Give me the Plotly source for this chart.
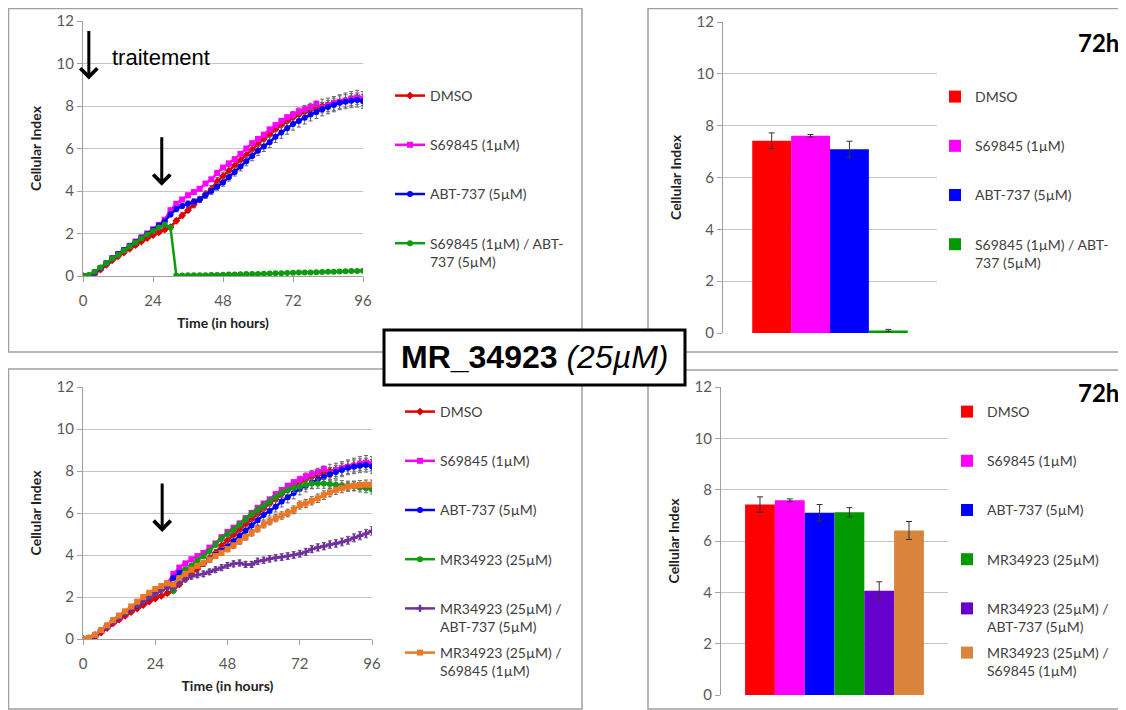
import plotly.graph_objects as go

# the page puts the figure 8 px from the window corner
OFF = 8
W, H = 1126 - OFF, 710 - OFF

hours = list(range(0, 97, 2))

# cellular index curves, one value every 2 h
dmso = [0, 0, 0.1, 0.3, 0.52, 0.74, 0.92, 1.1, 1.28, 1.45, 1.62, 1.78, 1.92, 2.05, 2.18,
        2.3, 2.6, 2.85, 3.1, 3.35, 3.6, 3.85, 4.1, 4.45, 4.7,
        4.95, 5.2, 5.45, 5.7, 5.95, 6.2, 6.45, 6.65, 6.9, 7.1,
        7.28, 7.45, 7.6, 7.72, 7.82, 7.92, 8.0, 8.05, 8.12, 8.2,
        8.28, 8.35, 8.4, 8.35]
s69845 = [0, 0, 0.17, 0.38, 0.6, 0.84, 1.03, 1.22, 1.42, 1.62, 1.82, 2.0, 2.2, 2.4, 2.65,
          3.1, 3.4, 3.6, 3.8, 3.95, 4.1, 4.35, 4.55, 4.85, 5.1,
          5.3, 5.5, 5.75, 6.0, 6.25, 6.45, 6.65, 6.9, 7.1, 7.3,
          7.47, 7.6, 7.75, 7.85, 7.95, 8.1, 7.9, 8.05, 8.15, 8.2,
          8.25, 8.35, 8.4, 8.35]
abt737 = [0, 0, 0.17, 0.38, 0.6, 0.84, 1.03, 1.22, 1.42, 1.6, 1.8, 1.98, 2.17, 2.38, 2.57,
          2.9, 3.15, 3.3, 3.4, 3.5, 3.6, 3.8, 4.0, 4.2, 4.4,
          4.65, 4.9, 5.15, 5.4, 5.65, 5.9, 6.1, 6.3, 6.55, 6.75,
          6.95, 7.15, 7.3, 7.45, 7.6, 7.72, 7.85, 7.95, 8.05, 8.15,
          8.2, 8.25, 8.28, 8.22]
s_abt = [0, 0.05, 0.2, 0.4, 0.6, 0.82, 1.0, 1.2, 1.4, 1.58, 1.78, 1.95, 2.12, 2.28, 2.42,
         2.28, 0.02, 0.02, 0.03, 0.03, 0.03, 0.04, 0.05, 0.05, 0.06,
         0.07, 0.07, 0.08, 0.09, 0.1, 0.1, 0.11, 0.12, 0.13, 0.13,
         0.14, 0.15, 0.16, 0.16, 0.17, 0.18, 0.19, 0.2, 0.2, 0.21,
         0.22, 0.23, 0.24, 0.25]
mr = [0, 0.03, 0.18, 0.4, 0.62, 0.85, 1.05, 1.25, 1.45, 1.63, 1.82, 2.0, 2.18, 2.35, 2.5,
      2.3, 2.9, 3.3, 3.5, 3.75, 3.95, 4.2, 4.5, 4.8, 5.0,
      5.2, 5.45, 5.7, 5.95, 6.15, 6.35, 6.55, 6.75, 6.95, 7.1,
      7.2, 7.25, 7.35, 7.4, 7.4, 7.4, 7.38, 7.35, 7.32, 7.3,
      7.27, 7.22, 7.18, 7.12]
mr_abt = [0, 0.03, 0.18, 0.4, 0.62, 0.85, 1.05, 1.25, 1.45, 1.63, 1.82, 2.0, 2.18, 2.33, 2.45,
          2.45, 2.7, 2.85, 2.98, 3.05, 3.1, 3.2, 3.3, 3.4, 3.5,
          3.58, 3.62, 3.55, 3.55, 3.7, 3.75, 3.82, 3.87, 3.9, 3.95,
          4.0, 4.06, 4.15, 4.28, 4.36, 4.42, 4.5, 4.55, 4.62, 4.7,
          4.82, 4.92, 5.02, 5.15]
mr_s = [0, 0.05, 0.2, 0.42, 0.65, 0.9, 1.12, 1.32, 1.55, 1.78, 2.0, 2.2, 2.38, 2.52, 2.65,
        2.6, 2.9, 3.1, 3.3, 3.48, 3.62, 3.78, 3.95, 4.1, 4.28,
        4.45, 4.65, 4.85, 5.05, 5.25, 5.45, 5.6, 5.75, 5.88, 6.0,
        6.15, 6.38, 6.45, 6.58, 6.7, 6.85, 6.98, 7.1, 7.18, 7.25,
        7.3, 7.33, 7.35, 7.35]

# error bars of the curves, in % of the value
err_dmso, err_s, err_abt, err_sabt = 4, 1, 4, 0
err_mr, err_mrabt, err_mrs = 3, 4, 3

top_names = ['DMSO', 'S69845 (1µM)', 'ABT-737 (5µM)', 'S69845 (1µM) / ABT-<br>737 (5µM)']
top_72h = [7.42, 7.61, 7.09, 0.1]
top_72h_err = [0.3, 0.05, 0.31, 0.04]

bot_names = ['DMSO', 'S69845 (1µM)', 'ABT-737 (5µM)', 'MR34923 (25µM)',
             'MR34923 (25µM) /<br>ABT-737 (5µM)', 'MR34923 (25µM) /<br>S69845 (1µM)']
bot_72h = [7.42, 7.59, 7.1, 7.12, 4.06, 6.41]
bot_72h_err = [0.3, 0.05, 0.32, 0.18, 0.35, 0.35]

line_col = ['#E00000', '#FF00FF', '#0000FF', '#109A10', '#7030A0', '#EE7722']
bar_col = ['#FF0000', '#FF00FF', '#0000FF', '#009900', '#6600CC', '#D9843B']
symbols = ['diamond', 'square', 'circle', 'circle', 'cross', 'square']

FONT = 'Lato'
TICK = dict(family=FONT, size=15, color='#595959')


def px(x):
    return max(x - OFF, 0.5) / W


def py(y):
    return 1 - max(y - OFF, 0.5) / H


def curve(y, name, color, sym, err, xa, ya, legend, grp):
    return go.Scatter(x=hours, y=y, name=name, mode='lines+markers',
                      xaxis=xa, yaxis=ya, legend=legend, legendgroup=grp,
                      line=dict(color=color, width=2.5),
                      marker=dict(color=color, size=6, symbol=sym),
                      error_y=dict(type='percent', value=err, color='#666666',
                                   thickness=1, width=2, visible=err > 0))


fig = go.Figure()

# top left: kinetics
top_curves = [dmso, s69845, abt737, s_abt]
top_err = [err_dmso, err_s, err_abt, err_sabt]
for i in range(4):
    fig.add_trace(curve(top_curves[i], top_names[i], line_col[i], symbols[i],
                        top_err[i], 'x', 'y', 'legend', 'tl%d' % i))

# bottom left: kinetics
bot_curves = [dmso, s69845, abt737, mr, mr_abt, mr_s]
bot_err = [err_dmso, err_s, err_abt, err_mr, err_mrabt, err_mrs]
for i in range(6):
    fig.add_trace(curve(bot_curves[i], bot_names[i], line_col[i], symbols[i],
                        bot_err[i], 'x3', 'y3', 'legend4' if i == 5 else 'legend3', 'bl%d' % i))

# top right: 72h bars
for i in range(4):
    fig.add_trace(go.Bar(x=['72h'], y=[top_72h[i]], name=top_names[i],
                         xaxis='x2', yaxis='y2', legend='legend2', legendgroup='tr%d' % i,
                         marker=dict(color=bar_col[i], line=dict(width=0)),
                         error_y=dict(type='data', array=[top_72h_err[i]], color='#333333',
                                      thickness=1, width=3)))

# bottom right: 72h bars
for i in range(6):
    fig.add_trace(go.Bar(x=['72h'], y=[bot_72h[i]], name=bot_names[i],
                         xaxis='x4', yaxis='y4',
                         legend='legend6' if i == 5 else 'legend5', legendgroup='br%d' % i,
                         marker=dict(color=bar_col[i], line=dict(width=0)),
                         error_y=dict(type='data', array=[bot_72h_err[i]], color='#333333',
                                      thickness=1, width=3)))

line_x = dict(range=[0, 96], tickvals=[0, 24, 48, 72, 96], ticks='outside', ticklen=5,
              tickcolor='#A0A0A0', showgrid=False, showline=True, linecolor='#A0A0A0',
              zeroline=False, tickfont=TICK, ticklabelstandoff=6,
              title=dict(text='<b>Time (in hours)</b>', font=dict(family=FONT, size=14, color='#222'),
                         standoff=10))
val_y = dict(range=[0, 12], dtick=2, ticks='outside', ticklen=5, tickcolor='#A0A0A0',
             showgrid=True, gridcolor='#C4C4C4', gridwidth=1, showline=True, linecolor='#A0A0A0',
             zeroline=False, tickfont=TICK,
             title=dict(text='<b>Cellular Index</b>', font=dict(family=FONT, size=14, color='#222'),
                        standoff=11))
bar_x = dict(showticklabels=False, ticks='', showgrid=False, showline=False, zeroline=False)

leg = dict(font=dict(family=FONT, size=14, color='#404040'), bgcolor='rgba(0,0,0,0)',
           tracegroupgap=28, valign='top', xanchor='left', yanchor='top', itemclick=False)

fig.update_layout(
    width=W, height=H, margin=dict(l=0, r=0, t=0, b=0, autoexpand=False),
    paper_bgcolor='white', plot_bgcolor='white',
    barmode='group', bargap=0.25, bargroupgap=0,
    xaxis=dict(line_x, domain=[px(83), px(363)], anchor='y'),
    yaxis=dict(val_y, domain=[py(276), py(21)], anchor='x'),
    xaxis3=dict(line_x, domain=[px(83), px(372)], anchor='y3'),
    yaxis3=dict(val_y, domain=[py(639), py(387)], anchor='x3'),
    xaxis2=dict(bar_x, domain=[px(723), px(937)], anchor='y2', range=[-0.516, 0.516]),
    yaxis2=dict(val_y, domain=[py(333), py(22)], anchor='x2'),
    xaxis4=dict(bar_x, domain=[px(721), px(948)], anchor='y4', range=[-0.476, 0.476]),
    yaxis4=dict(val_y, domain=[py(695), py(387)], anchor='x4'),
    legend=dict(leg, x=px(390), y=py(80)),
    legend2=dict(leg, x=px(935), y=py(81)),
    legend3=dict(leg, x=px(400), y=py(396)),
    legend4=dict(leg, x=px(400), y=py(637)),
    legend5=dict(leg, x=px(947), y=py(396)),
    legend6=dict(leg, x=px(947), y=py(637)),
)

# panel frames
for x0, y0, x1, y1 in [(7, 6, 582, 352), (648, 6, 1125, 352), (7, 369, 582, 709), (648, 370, 1125, 709)]:
    fig.add_shape(type='rect', xref='paper', yref='paper', x0=px(x0), x1=px(x1), y0=py(y1), y1=py(y0),
                  line=dict(color='#A0A0A0', width=1.5), layer='below')

# central title box
fig.add_shape(type='rect', xref='paper', yref='paper', x0=px(384), x1=px(685), y0=py(385), y1=py(330),
              line=dict(color='black', width=3), fillcolor='white', layer='above')
fig.add_annotation(xref='paper', yref='paper', x=px(534), y=py(357), showarrow=False,
                   text='<b>MR_34923</b> <i>(25µM)</i>',
                   font=dict(family='Liberation Sans', size=32, color='black'))

for yy in [26, 392]:
    fig.add_annotation(xref='paper', yref='paper', x=px(1121), y=py(yy), showarrow=False,
                       xanchor='right', text='<b>72h</b>',
                       font=dict(family=FONT, size=24, color='black'))

# treatment arrows
arrow = dict(showarrow=True, text='', arrowhead=4, arrowsize=1.1, arrowwidth=3,
             arrowcolor='black', ax=0, ay=-50, standoff=0)
fig.add_annotation(arrow, xref='x', yref='y', x=2, y=9.25)
fig.add_annotation(arrow, xref='x', yref='y', x=27, y=4.25)
fig.add_annotation(arrow, xref='x3', yref='y3', x=26.3, y=5.1)
fig.add_annotation(xref='x', yref='y', x=9.3, y=10.3, showarrow=False, xanchor='left',
                   text='traitement', font=dict(family='Liberation Sans', size=22, color='black'))

fig.write_html('out.html', config=dict(displayModeBar=False))
